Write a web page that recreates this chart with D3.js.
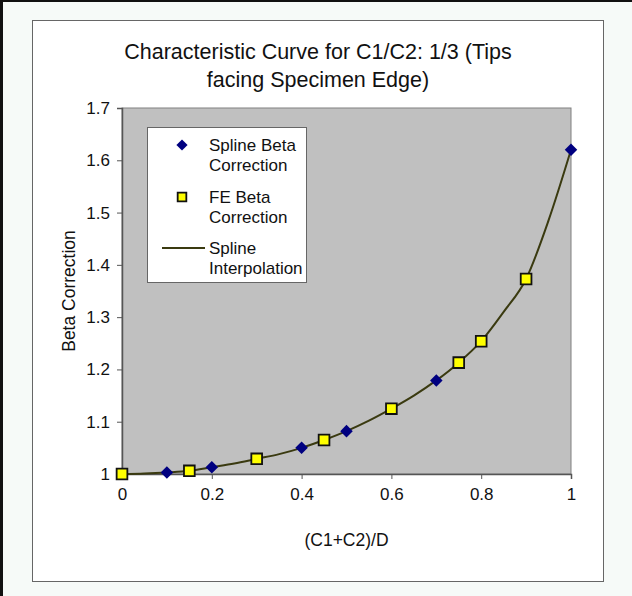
<!DOCTYPE html>
<html>
<head>
<meta charset="utf-8">
<script src="https://cdn.jsdelivr.net/npm/d3@7"></script>
<style>
  html, body { margin: 0; padding: 0; background: #f6faf8; }
  svg { display: block; font-family: "Liberation Sans", Arial, sans-serif; }
</style>
</head>
<body>
<svg id="chart" width="632" height="596"></svg>
<script>
// data
const splineX = [0.1, 0.2, 0.4, 0.5, 0.7, 1.0];
const splineY = [1.003, 1.013, 1.050, 1.082, 1.179, 1.620];

const feX = [0, 0.15, 0.3, 0.45, 0.6, 0.75, 0.8, 0.9];
const feY = [1.0, 1.006, 1.029, 1.065, 1.125, 1.213, 1.254, 1.373];

const curveX = [0, 0.05, 0.1, 0.15, 0.2, 0.25, 0.3, 0.35, 0.4, 0.45, 0.5, 0.55, 0.6, 0.65, 0.7, 0.75, 0.8, 0.85, 0.9, 0.95, 1.0];
const curveY = [1.0, 1.001, 1.003, 1.006, 1.013, 1.020, 1.029, 1.038, 1.050, 1.065, 1.082, 1.102, 1.125, 1.150, 1.179, 1.213, 1.254, 1.310, 1.373, 1.485, 1.620];

const xTicks = [0, 0.2, 0.4, 0.6, 0.8, 1];
const yTicks = [1, 1.1, 1.2, 1.3, 1.4, 1.5, 1.6, 1.7];

const titleLines = ['Characteristic Curve for C1/C2: 1/3 (Tips', 'facing Specimen Edge)'];
const legendItems = [
    { label: ['Spline Beta', 'Correction'], kind: 'diamond' },
    { label: ['FE Beta', 'Correction'], kind: 'square' },
    { label: ['Spline', 'Interpolation'], kind: 'line' }
];

const svg = d3.select('#chart');
const plot = { left: 122, right: 571, top: 108, bottom: 474 };

const x = d3.scaleLinear().domain([0, 1]).range([plot.left, plot.right]);
const y = d3.scaleLinear().domain([1, 1.7]).range([plot.bottom, plot.top]);

// outer frame (black on left and top only)
svg.append('rect').attr('x', 0).attr('y', 0).attr('width', 632).attr('height', 2).attr('fill', '#111');
svg.append('rect').attr('x', 0).attr('y', 0).attr('width', 3).attr('height', 596).attr('fill', '#111');

// chart area box
svg.append('rect')
    .attr('x', 32.5).attr('y', 20.5).attr('width', 571).attr('height', 561)
    .attr('fill', '#fff').attr('stroke', '#666').attr('stroke-width', 1);

// title
svg.append('text')
    .attr('x', 318).attr('y', 59)
    .attr('text-anchor', 'middle')
    .attr('font-size', 21.5)
    .attr('fill', '#111')
    .selectAll('tspan').data(titleLines).enter().append('tspan')
    .attr('x', 318)
    .attr('dy', (d, i) => i === 0 ? 0 : 28)
    .text(d => d);

// plot background
svg.append('rect')
    .attr('x', plot.left).attr('y', plot.top)
    .attr('width', plot.right - plot.left).attr('height', plot.bottom - plot.top)
    .attr('fill', '#c0c0c0').attr('stroke', '#808080').attr('stroke-width', 1);

// axes
const xAxis = d3.axisBottom(x).tickValues(xTicks).tickSize(5).tickPadding(9).tickFormat(d3.format('~g'));
const yAxis = d3.axisLeft(y).tickValues(yTicks).tickSize(5).tickPadding(7).tickFormat(d3.format('~g'));

const gx = svg.append('g').attr('transform', `translate(0,${plot.bottom})`).call(xAxis);
const gy = svg.append('g').attr('transform', `translate(${plot.left},0)`).call(yAxis);

[gx, gy].forEach(g => {
    g.select('.domain').attr('stroke', '#555').attr('stroke-width', 1.5);
    g.selectAll('.tick line').attr('stroke', '#555');
    g.selectAll('.tick text').attr('font-size', 17).attr('fill', '#111')
        .attr('font-family', '"Liberation Sans", Arial, sans-serif');
});

// axis labels
svg.append('text')
    .attr('x', (plot.left + plot.right) / 2).attr('y', 546)
    .attr('text-anchor', 'middle').attr('font-size', 17.5).attr('fill', '#111')
    .text('(C1+C2)/D');

svg.append('text')
    .attr('transform', `translate(75,${(plot.top + plot.bottom) / 2}) rotate(-90)`)
    .attr('text-anchor', 'middle').attr('font-size', 17.5).attr('fill', '#111')
    .text('Beta Correction');

// spline interpolation line
const curveData = curveX.map((d, i) => [d, curveY[i]]);
const line = d3.line().x(d => x(d[0])).y(d => y(d[1])).curve(d3.curveMonotoneX);

svg.append('path')
    .datum(curveData)
    .attr('d', line)
    .attr('fill', 'none')
    .attr('stroke', '#3a3a10')
    .attr('stroke-width', 2);

// markers
const diamond = d3.symbol().type(d3.symbolDiamond2).size(100);
const square = d3.symbol().type(d3.symbolSquare).size(115);

svg.append('g').selectAll('path')
    .data(splineX.map((d, i) => [d, splineY[i]]))
    .enter().append('path')
    .attr('transform', d => `translate(${x(d[0])},${y(d[1])})`)
    .attr('d', diamond)
    .attr('fill', '#000080');

svg.append('g').selectAll('path')
    .data(feX.map((d, i) => [d, feY[i]]))
    .enter().append('path')
    .attr('transform', d => `translate(${x(d[0])},${y(d[1])})`)
    .attr('d', square)
    .attr('fill', '#ffff00')
    .attr('stroke', '#111')
    .attr('stroke-width', 1.8);

// legend
const legend = svg.append('g');
legend.append('rect')
    .attr('x', 147.5).attr('y', 127.5).attr('width', 159).attr('height', 155)
    .attr('fill', '#fff').attr('stroke', '#666');

const rowY = [145, 197, 248];
legendItems.forEach((item, i) => {
    const cy = rowY[i];
    if (item.kind === 'diamond') {
        legend.append('path').attr('transform', `translate(182,${cy})`)
            .attr('d', d3.symbol().type(d3.symbolDiamond2).size(80)).attr('fill', '#000080');
    } else if (item.kind === 'square') {
        legend.append('path').attr('transform', `translate(182,${cy})`)
            .attr('d', d3.symbol().type(d3.symbolSquare).size(75))
            .attr('fill', '#ffff00').attr('stroke', '#111').attr('stroke-width', 1.8);
    } else {
        legend.append('line').attr('x1', 162).attr('x2', 205).attr('y1', cy).attr('y2', cy)
            .attr('stroke', '#3a3a10').attr('stroke-width', 2);
    }
    legend.append('text')
        .attr('x', 209).attr('y', cy + 6)
        .attr('font-size', 17).attr('fill', '#111')
        .selectAll('tspan').data(item.label).enter().append('tspan')
        .attr('x', 209)
        .attr('dy', (d, j) => j === 0 ? 0 : 20)
        .text(d => d);
});
</script>
</body>
</html>
